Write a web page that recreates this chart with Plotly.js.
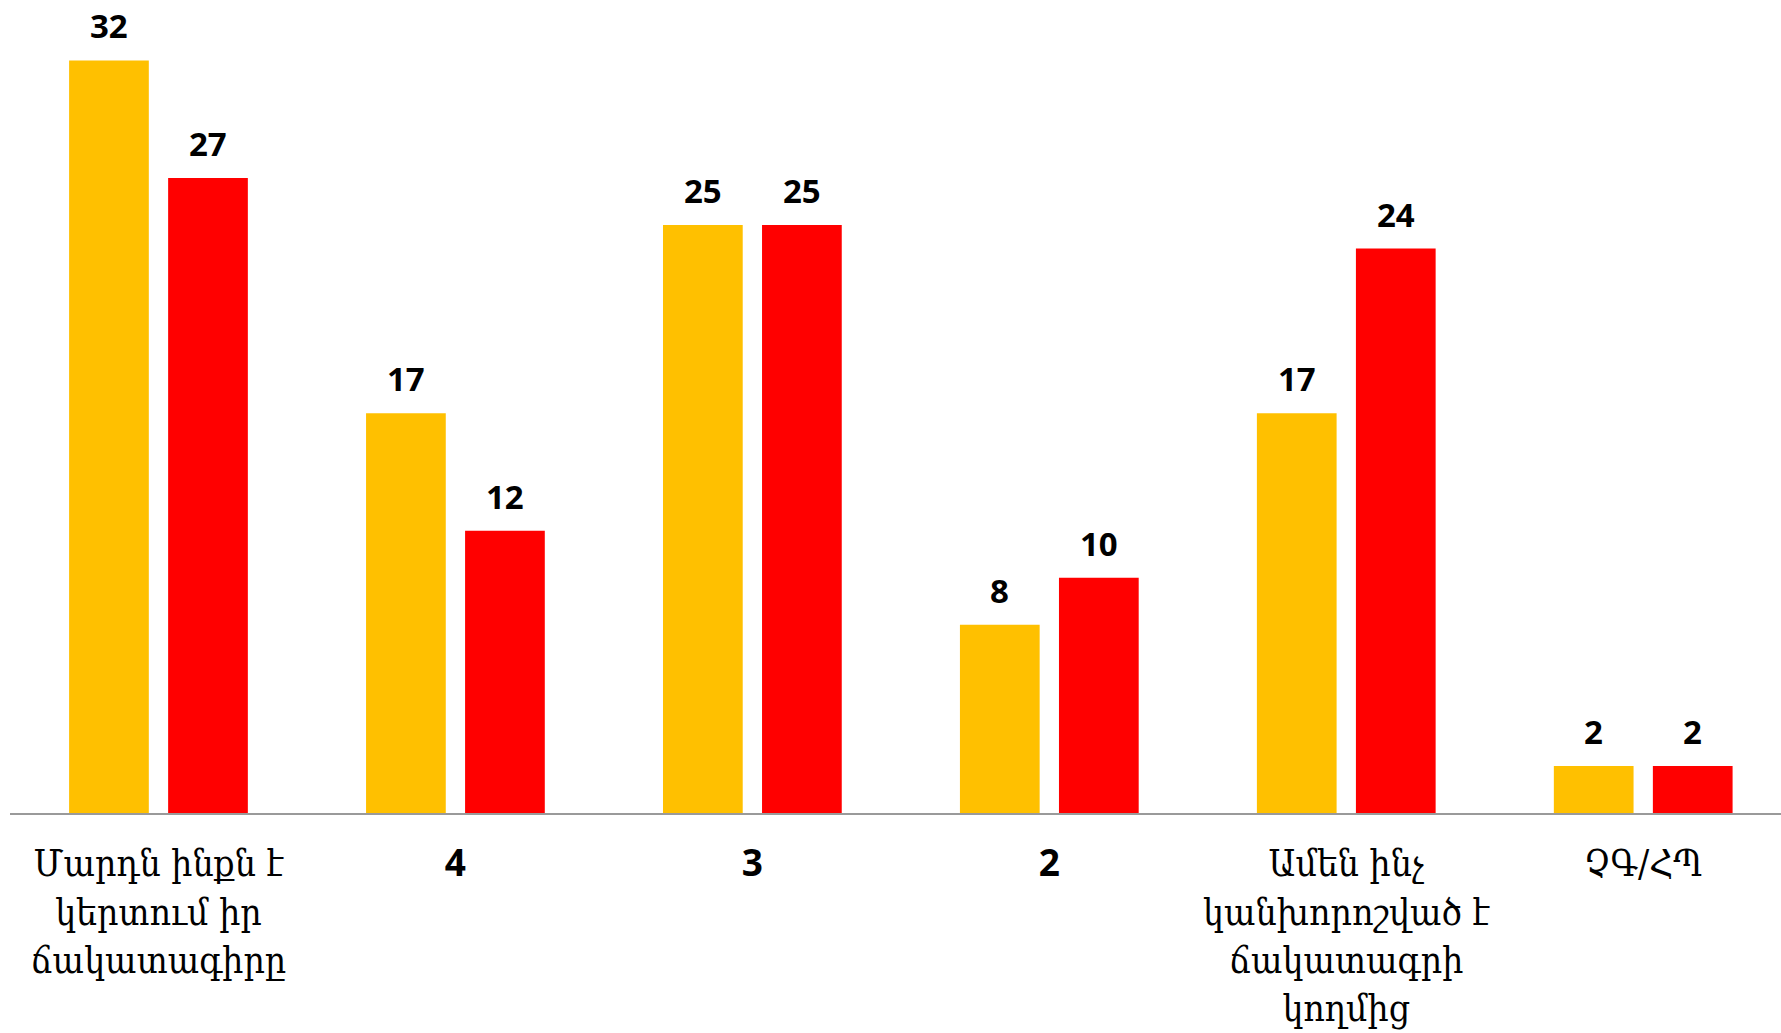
<!DOCTYPE html>
<html>
<head>
<meta charset="utf-8">
<script src="https://cdn.plot.ly/plotly-3.0.1.min.js"></script>
<style>
html,body{margin:0;padding:0;background:#fff;}
#chart{width:1781px;height:1033px;}
</style>
</head>
<body>
<div id="chart"></div>
<script>
const categories = [
  "Մարդն ինքն է<br>կերտում իր<br>ճակատագիրը",
  "4",
  "3",
  "2",
  "Ամեն ինչ<br>կանխորոշված է<br>ճակատագրի<br>կողմից",
  "ՉԳ/ՀՊ"
];
const seriesA = [32, 17, 25, 8, 17, 2];
const seriesB = [27, 12, 25, 10, 24, 2];
const colorA = "#FFC000";
const colorB = "#FF0000";

const xIdx = categories.map((c, i) => i);
const tickText = categories.map(c => /^\d+$/.test(c)
  ? "<span style=\"font-family:'Open Sans';font-weight:bold\">" + c + "</span>" : c);

const traces = [
  {type: "bar", x: xIdx, y: seriesA, marker: {color: colorA}, hoverinfo: "none", name: "A"},
  {type: "bar", x: xIdx, y: seriesB, marker: {color: colorB}, hoverinfo: "none", name: "B"}
];

const labelFont = {family: "Open Sans, Noto Sans, sans-serif", size: 33, color: "#000", weight: 700};
const annotations = [];
const barShift = 49.5;
seriesA.forEach((v, i) => annotations.push({
  x: i, y: v, xref: "x", yref: "y", text: "<b>" + v + "</b>", showarrow: false,
  yanchor: "bottom", xanchor: "center", xshift: -barShift, yshift: 10, font: labelFont
}));
seriesB.forEach((v, i) => annotations.push({
  x: i, y: v, xref: "x", yref: "y", text: "<b>" + v + "</b>", showarrow: false,
  yanchor: "bottom", xanchor: "center", xshift: barShift, yshift: 10, font: labelFont
}));

const layout = {
  width: 1781, height: 1033,
  margin: {l: 10, r: 0, t: 0, b: 220},
  paper_bgcolor: "#fff", plot_bgcolor: "#fff",
  showlegend: false,
  barmode: "group",
  bargap: 0.333,
  bargroupgap: 0.195,
  xaxis: {
    range: [-0.5, 5.464],
    tickmode: "array", tickvals: xIdx, ticktext: tickText,
    showgrid: false, zeroline: false,
    showline: true, linecolor: "#9a9a9a", linewidth: 2,
    ticks: "", ticklabelstandoff: 17,
    tickfont: {family: "DejaVu Serif Condensed, DejaVu Serif, serif", size: 37, color: "#000"},
    fixedrange: true
  },
  yaxis: {
    range: [0, 34.57],
    visible: false, showgrid: false, zeroline: false, fixedrange: true
  },
  annotations: annotations
};

Plotly.newPlot("chart", traces, layout, {displayModeBar: false, staticPlot: true});
</script>
</body>
</html>
